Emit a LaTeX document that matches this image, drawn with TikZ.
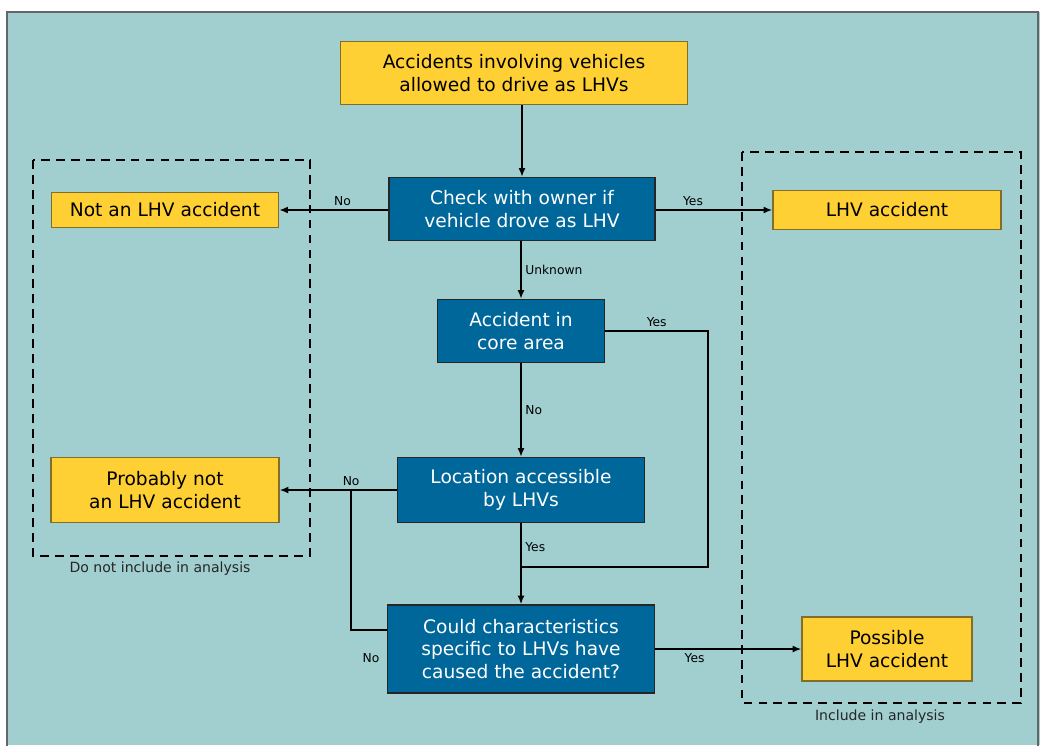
\documentclass[tikz,border=0pt]{standalone}
\usepackage{fontspec}
\setmainfont{DejaVu Sans}
\usetikzlibrary{arrows.meta,positioning}
\definecolor{myTeal}{RGB}{161,207,207}
\definecolor{myBlue}{RGB}{0,103,155}
\definecolor{myYellow}{RGB}{255,208,51}
\definecolor{myOlive}{RGB}{130,110,40}
\newcommand{\boxfont}{\fontsize{10.6}{13}\selectfont}
\newcommand{\lblfont}{\fontsize{7}{8}\selectfont}
\tikzset{
  >={Latex[length=5pt,width=4pt]},
  box/.style={shape=rectangle,align=center,inner sep=0,font=\boxfont,line width=0.8pt},
  ybox/.style={box,draw=myOlive,fill=myYellow,text=black},
  bbox/.style={box,draw=black!85,fill=myBlue,text=white},
  line/.style={draw,line width=0.9pt},
  arr/.style={line,->},
  thickarr/.style={draw,->,line width=1.4pt},
  lbl/.style={font=\lblfont,inner sep=2pt},
  group/.style={draw,line width=1.1pt,dash pattern=on 5pt off 3.5pt},
  grplbl/.style={font=\fontsize{8}{9}\selectfont,text=black!85},
}
\begin{document}
\begin{tikzpicture}[x=0.02cm,y=-0.02cm]
  \useasboundingbox (0,0) rectangle (1040,745);
  % background panel
  \fill[myTeal] (7,12) rectangle (1040,745);
  \draw[black!60,line width=1pt] (7,746) -- (7,12) -- (1038,12) -- (1038,746);

  % groups
  \draw[group] (33,160) rectangle (310,556);
  \draw[group] (742,152) rectangle (1021,703);
  \node (excl) [grplbl] at (160,569) {Do not include in analysis};
  \node (incl) [grplbl] at (880,717) {Include in analysis};

  % boxes
  \node (top) [ybox,minimum width=6.94cm,minimum height=1.26cm] at (514,73) {Accidents involving vehicles\\allowed to drive as LHVs};
  \node (check) [bbox,minimum width=5.32cm,minimum height=1.26cm] at (522,209) {Check with owner if\\vehicle drove as LHV};
  \node (notlhv) [ybox,minimum width=4.54cm,minimum height=0.7cm] at (165,210) {Not an LHV accident};
  \node (lhv) [ybox,minimum width=4.56cm,minimum height=0.78cm] at (887,210) {LHV accident};
  \node (core) [bbox,minimum width=3.34cm,minimum height=1.26cm] at (521,331) {Accident in\\core area};
  \node (location) [bbox,minimum width=4.94cm,minimum height=1.3cm] at (521,490) {Location accessible\\by LHVs};
  \node (probnot) [ybox,minimum width=4.56cm,minimum height=1.3cm] at (165,490) {Probably not\\an LHV accident};
  \node (could) [bbox,minimum width=5.34cm,minimum height=1.76cm] at (521,649) {Could characteristics\\specific to LHVs have\\caused the accident?};
  \node (possible) [ybox,minimum width=3.4cm,minimum height=1.28cm] at (887,649) {Possible\\LHV accident};

  \coordinate (yesjoin) at (521,567);
  \coordinate (nojoin) at (351,490);
  \coordinate (noexit) at ([yshift=0.38cm]could.west);

  % connectors
  \path [arr] (top.south -| check.north) -- (check.north);
  \path [thickarr] (check.west |- notlhv.east) -- node[lbl,pos=0.42,above]{No} (notlhv.east);
  \path [thickarr] (check.east |- lhv.west) -- node[lbl,pos=0.32,above]{Yes} (lhv.west);
  \path [arr] (check.south -| core.north) -- node[lbl,midway,right]{Unknown} (core.north);
  \path [arr] (core.south) -- node[lbl,midway,right]{No} (location.north);
  \path [arr] (location.south) -- node[lbl,pos=0.3,right]{Yes} (could.north);
  \path [line] (core.east) -- node[lbl,midway,above]{Yes} ++(103,0) |- (yesjoin);
  \path [arr] (location.west) -- node[lbl,pos=0.39,above]{No} (probnot.east);
  \path [line] (noexit) -| node[lbl,pos=0.22,below=11pt]{No} (nojoin);
  \path [arr] (could.east) -- node[lbl,pos=0.27,below]{Yes} (possible.west);
\end{tikzpicture}
\end{document}
